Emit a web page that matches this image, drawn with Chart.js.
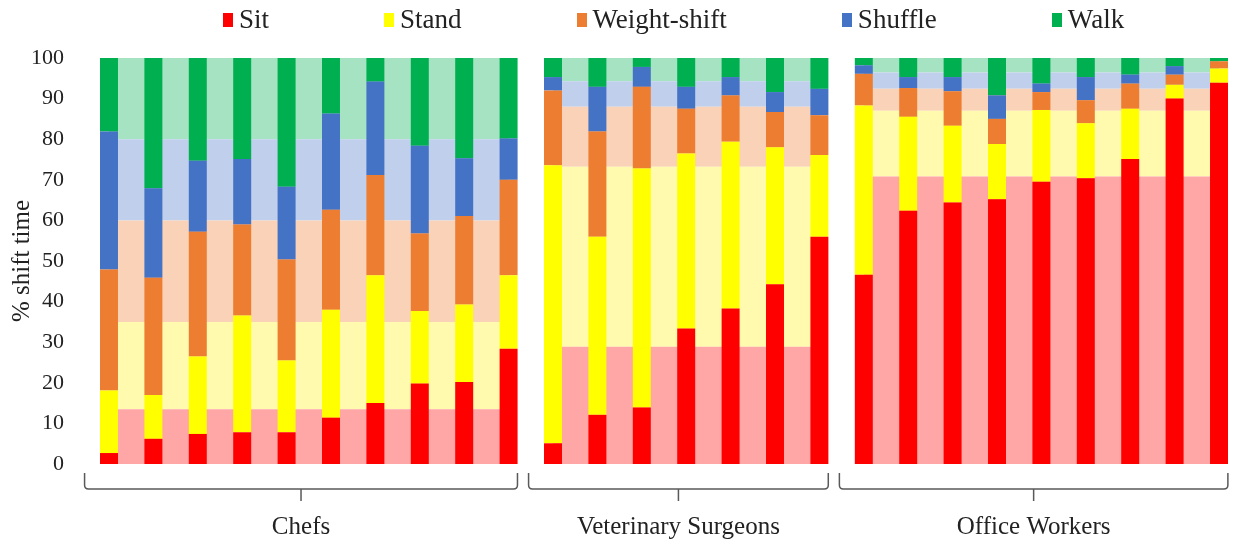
<!DOCTYPE html>
<html>
<head>
<meta charset="utf-8">
<script src="https://cdn.jsdelivr.net/npm/chart.js@4.4.1/dist/chart.umd.min.js"></script>
<style>
  html, body { margin: 0; padding: 0; background: #fff; }
  #wrap { position: relative; width: 1238px; height: 547px; }
  #legend {
    position: absolute; left: 223px; top: 4px;
    display: flex; gap: 115px;
    font-family: 'Liberation Serif', 'Times New Roman', serif;
    font-size: 27px; color: #222;
  }
  #legend .item { display: flex; align-items: center; }
  #legend .box { width: 10px; height: 14px; margin-right: 6px; }
</style>
</head>
<body>
<div id="wrap">
  <canvas id="chart" width="1238" height="547"></canvas>
  <div id="legend"></div>
</div>
<script>
var groups = ['Chefs', 'Veterinary Surgeons', 'Office Workers'];
var groupSizes = [10, 7, 9];
var activities = ['Sit', 'Stand', 'Weight-shift', 'Shuffle', 'Walk'];

// % shift time for each participant (chefs, vets, office workers in turn)
var sit         = [2.7, 6.2, 7.4, 7.8, 7.8, 11.4, 15.0, 19.8, 20.2, 28.4,
                   5.1, 12.1, 13.9, 33.4, 38.3, 44.3, 56.0,
                   46.6, 62.4, 64.4, 65.2, 69.5, 70.4, 75.1, 90.0, 93.9];
var stand       = [15.4, 10.8, 19.1, 28.8, 17.7, 26.6, 31.5, 17.9, 19.1, 18.1,
                   68.5, 43.9, 58.9, 43.1, 41.1, 33.7, 20.1,
                   41.7, 23.1, 18.9, 13.6, 17.7, 13.5, 12.4, 3.4, 3.5];
var weightShift = [29.8, 28.9, 30.7, 22.4, 24.9, 24.6, 24.7, 19.1, 21.8, 23.5,
                   18.4, 25.9, 20.1, 11.0, 11.4, 8.7, 9.8,
                   7.8, 7.1, 8.5, 6.2, 4.4, 5.7, 6.2, 2.5, 1.8];
var shuffle     = [34.0, 22.0, 17.5, 16.1, 17.9, 23.7, 23.0, 21.6, 14.2, 10.2,
                   3.3, 11.0, 4.9, 5.4, 4.5, 4.9, 6.5,
                   2.1, 2.7, 3.5, 5.8, 2.1, 5.7, 2.2, 2.1, 0.0];
var walk        = [18.1, 32.1, 25.3, 24.9, 31.7, 13.7, 5.8, 21.6, 24.7, 19.8,
                   4.7, 7.1, 2.2, 7.1, 4.7, 8.4, 7.6,
                   1.8, 4.7, 4.7, 9.2, 6.3, 4.7, 4.1, 2.0, 0.8];

// group means (pale background)
var meanSit         = [13.5, 28.9, 70.8];
var meanStand       = [21.5, 44.3, 16.2];
var meanWeightShift = [25.0, 14.8, 5.4];
var meanShuffle     = [20.0, 6.3, 4.0];
var meanWalk        = [20.0, 5.7, 3.6];

var yTicks = [0, 10, 20, 30, 40, 50, 60, 70, 80, 90, 100];

var colours = ['#ff0000', '#ffff00', '#ed7d31', '#4472c4', '#00b050'];
var paleColours = ['#ffa6a6', '#fffaae', '#f9d2b7', '#bfcfec', '#a6e3c2'];
var serif = "'Liberation Serif', 'Times New Roman', serif";
var textColour = '#222';

var personSeries = [sit, stand, weightShift, shuffle, walk];
var meanSeries = [meanSit, meanStand, meanWeightShift, meanShuffle, meanWalk];

var starts = [];
var n = 0;
groupSizes.forEach(function (s) { starts.push(n); n += s; });

var datasets = [];
personSeries.forEach(function (series, k) {
  datasets.push({
    label: activities[k],
    stack: 'person',
    order: 0,
    grouped: false,
    data: series.map(function (v, i) { return { x: i, y: v }; }),
    backgroundColor: colours[k],
    borderWidth: 0,
    barPercentage: 0.81,
    categoryPercentage: 1
  });
});
meanSeries.forEach(function (means, k) {
  var pts = [];
  groupSizes.forEach(function (s, g) {
    for (var j = 0; j < s - 1; j++) pts.push({ x: starts[g] + j + 0.5, y: means[g] });
  });
  datasets.push({
    label: activities[k] + ' mean',
    stack: 'mean',
    order: 1,
    grouped: false,
    data: pts,
    backgroundColor: paleColours[k],
    borderWidth: 0,
    barPercentage: 1,
    categoryPercentage: 2
  });
});

// braces + group names under the bars
var bracePlugin = {
  id: 'braces',
  afterDraw: function (chart) {
    var ctx = chart.ctx, xs = chart.scales.x, area = chart.chartArea;
    var y = area.bottom + 25;
    ctx.save();
    ctx.strokeStyle = '#595959';
    ctx.lineWidth = 1.5;
    groups.forEach(function (name, g) {
      var x0 = xs.getPixelForValue(starts[g] - 0.55);
      var x1 = xs.getPixelForValue(starts[g] + groupSizes[g] - 1 + 0.2);
      var xc = (x0 + x1) / 2;
      ctx.beginPath();
      ctx.moveTo(x0, y - 16);
      ctx.lineTo(x0, y - 4);
      ctx.quadraticCurveTo(x0, y, x0 + 4, y);
      ctx.lineTo(x1 - 4, y);
      ctx.quadraticCurveTo(x1, y, x1, y - 4);
      ctx.lineTo(x1, y - 16);
      ctx.moveTo(xc, y);
      ctx.lineTo(xc, y + 12);
      ctx.stroke();
      ctx.fillStyle = textColour;
      ctx.font = "25px " + serif;
      ctx.textAlign = 'center';
      ctx.textBaseline = 'middle';
      ctx.fillText(name, xc, y + 38);
    });
    ctx.restore();
  }
};

var chart = new Chart(document.getElementById('chart'), {
  type: 'bar',
  data: { datasets: datasets },
  options: {
    responsive: false,
    animation: false,
    devicePixelRatio: 1,
    layout: { padding: { top: 58, bottom: 83, left: 0, right: 10 } },
    plugins: { legend: { display: false }, tooltip: { enabled: false } },
    scales: {
      x: {
        type: 'linear', display: false, offset: false,
        min: -0.2025, max: n - 1 + 0.2025,
        ticks: { stepSize: 0.5 }
      },
      y: {
        stacked: true, min: 0, max: 100,
        afterBuildTicks: function (axis) { axis.ticks = yTicks.map(function (v) { return { value: v }; }); },
        afterFit: function (axis) { axis.width = 100; },
        grid: { display: false, drawTicks: false },
        border: { display: false },
        ticks: { padding: 36, color: textColour, font: { family: serif, size: 22 } },
        title: {
          display: true, text: '% shift time', color: textColour,
          font: { family: serif, size: 25 }, padding: { top: 7, bottom: 0 }
        }
      }
    }
  },
  plugins: [bracePlugin]
});

// legend (saturated colours only)
var legend = document.getElementById('legend');
activities.forEach(function (a, k) {
  var item = document.createElement('div');
  item.className = 'item';
  var box = document.createElement('span');
  box.className = 'box';
  box.style.background = colours[k];
  var txt = document.createElement('span');
  txt.textContent = a;
  item.appendChild(box);
  item.appendChild(txt);
  legend.appendChild(item);
});
</script>
</body>
</html>
